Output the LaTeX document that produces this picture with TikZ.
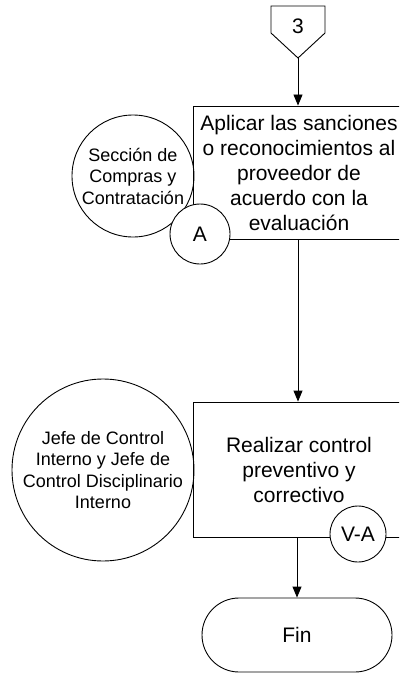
\documentclass[tikz,border=0pt]{standalone}
\usepackage{fontspec}
\setmainfont{Liberation Sans}
\usepackage{tikz}
\usetikzlibrary{arrows.meta}
\tikzset{>={Triangle[length=11pt,width=9pt]}}
\tikzset{
  proc/.style={draw, rectangle, minimum width=212pt, align=center, font=\fontsize{21}{25}\selectfont},
  actor/.style={draw, circle, align=center, inner sep=0pt, font=\fontsize{18}{21.5}\selectfont},
  refcirc/.style={draw, circle, fill=white, inner sep=0pt, font=\fontsize{21}{25}\selectfont},
  term/.style={draw, rectangle, rounded corners=37pt, minimum width=190pt, minimum height=74pt, font=\fontsize{21}{25}\selectfont}
}

\begin{document}
\begin{tikzpicture}[x=1pt,y=-1pt,line width=0.9pt]
	\useasboundingbox (0,0) rectangle (399,674);
	\clip (0,0) rectangle (399,674);

	% connector 3
	\draw (271,6) -- (325,6) -- (325,33) -- (298,58) -- (271,33) -- cycle;
	\node[font=\fontsize{21}{25}\selectfont] (con3) at (298,26) {3};
	\coordinate (con3tip) at (298,58);

	\node[proc, minimum height=133pt] (sanc) at (299,172.5) {Aplicar las sanciones\\o reconocimientos al\\proveedor de\\acuerdo con la\\evaluaci\'on};
	\node[actor, minimum size=122pt] (compras) at (133,176) {Secci\'on de\\Compras y\\Contrataci\'on};
	\node[refcirc, minimum size=60pt] (refA) at (200,234) {A};

	\node[proc, minimum height=135pt] (control) at (299,469.5) {Realizar control\\preventivo y\\correctivo};
	\node[actor, minimum size=182pt] (jefe) at (103,470) {Jefe de Control\\Interno y Jefe de\\Control Disciplinario\\Interno};
	\node[refcirc, minimum size=56pt] (refVA) at (358,534) {V-A};

	\node[term] (fin) at (297,635) {Fin};

	\draw[->] (con3tip) -- (con3tip |- sanc.north);
	\draw[->] (sanc.south -| con3tip) -- (con3tip |- control.north);
	\draw[->] (control.south -| fin.north) -- (fin.north);
\end{tikzpicture}
\end{document}
